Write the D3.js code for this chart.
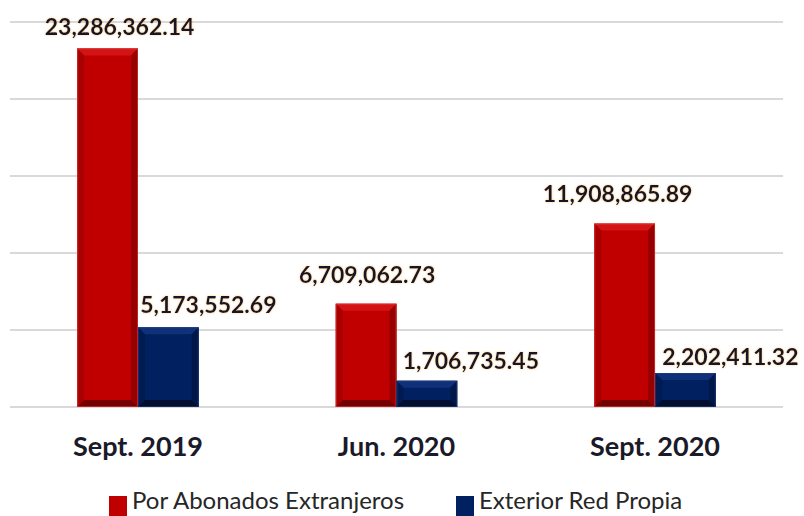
<!DOCTYPE html>
<html><head><meta charset="utf-8">
<script src="https://cdn.jsdelivr.net/npm/d3@7"></script>
<style>
body{margin:0;background:#fff;}
svg{display:block;}
</style></head>
<body>
<svg id="chart" width="804" height="516"></svg>
<script>
// ---- data ----
const categories = ["Sept. 2019", "Jun. 2020", "Sept. 2020"];
const seriesNames = ["Por Abonados Extranjeros", "Exterior Red Propia"];
const porAbonados = [23286362.14, 6709062.73, 11908865.89];
const exteriorRed = [5173552.69, 1706735.45, 2202411.32];
const valueLabels = [
  ["23,286,362.14", "6,709,062.73", "11,908,865.89"],
  ["5,173,552.69", "1,706,735.45", "2,202,411.32"]
];
const yTicks = [0, 5000000, 10000000, 15000000, 20000000, 25000000];

// ---- label layout (style, not data) ----
const labelNudge = [
  [[12, 22], [1, 30], [-7, 31]],
  [[40, 23], [44, 21], [45, 17]]
];

const svg = d3.select("#chart");
const seriesVals = [porAbonados, exteriorRed];
const palettes = [
  {face:"#c00000", top:"#d41414", left:"#a80000", right:"#960000", bottom:"#760000", edge:"#e04040"},
  {face:"#002060", top:"#10307a", left:"#001a52", right:"#00174a", bottom:"#000f30", edge:"#24407f"}
];

const x0 = d3.scaleBand().domain(categories).range([10, 783]).paddingInner(0.53).paddingOuter(0.26);
const x1 = d3.scaleBand().domain([0,1]).range([0, x0.bandwidth()]).padding(0);
const y = d3.scaleLinear().domain([0, 25000000]).range([407, 22]);

// glow filter
const defs = svg.append("defs");
const f = defs.append("filter").attr("id","glow").attr("x","-10%").attr("y","-30%").attr("width","120%").attr("height","160%");
f.append("feMorphology").attr("in","SourceAlpha").attr("operator","dilate").attr("radius",0.4).attr("result","d");
f.append("feGaussianBlur").attr("in","d").attr("stdDeviation",0.9).attr("result","b");
f.append("feFlood").attr("flood-color","#f0a830").attr("flood-opacity",0.6).attr("result","c");
f.append("feComposite").attr("in","c").attr("in2","b").attr("operator","in").attr("result","g");
const m = f.append("feMerge");
m.append("feMergeNode").attr("in","g");
m.append("feMergeNode").attr("in","SourceGraphic");

// gridlines
svg.append("g").selectAll("line").data(yTicks).join("line")
  .attr("x1", 10).attr("x2", 783)
  .attr("y1", d => y(d)).attr("y2", d => y(d))
  .attr("stroke", "#d9d9d9").attr("stroke-width", 2);

// bars with bevel
function bevelBar(g, x, yy, w, h, p) {
  const b = Math.min(7, h/2, w/2);
  g.append("rect").attr("x", x).attr("y", yy).attr("width", w).attr("height", h).attr("fill", p.face);
  const pts = (arr) => arr.map(a => a.join(",")).join(" ");
  g.append("polygon").attr("fill", p.top).attr("points", pts([[x,yy],[x+w,yy],[x+w-b,yy+b],[x+b,yy+b]]));
  g.append("polygon").attr("fill", p.left).attr("points", pts([[x,yy],[x+b,yy+b],[x+b,yy+h-b],[x,yy+h]]));
  g.append("polygon").attr("fill", p.right).attr("points", pts([[x+w,yy],[x+w,yy+h],[x+w-b,yy+h-b],[x+w-b,yy+b]]));
  g.append("polygon").attr("fill", p.bottom).attr("points", pts([[x,yy+h],[x+b,yy+h-b],[x+w-b,yy+h-b],[x+w,yy+h]]));
  g.append("rect").attr("x", x+0.5).attr("y", yy+0.5).attr("width", w-1).attr("height", h-1)
    .attr("fill", "none").attr("stroke", p.edge).attr("stroke-width", 1).attr("stroke-opacity", 0.6);
}

const barsG = svg.append("g");
categories.forEach((c, i) => {
  seriesVals.forEach((vals, s) => {
    const bx = x0(c) + x1(s);
    const by = y(vals[i]);
    bevelBar(barsG, bx, by, x1.bandwidth(), y(0) - by, palettes[s]);
  });
});

// value labels
const labG = svg.append("g").attr("filter", "url(#glow)");
categories.forEach((c, i) => {
  seriesVals.forEach((vals, s) => {
    const cx = x0(c) + x1(s) + x1.bandwidth()/2 + labelNudge[s][i][0];
    const cy = y(vals[i]) - labelNudge[s][i][1];
    labG.append("text").attr("x", cx).attr("y", cy)
      .attr("text-anchor", "middle").attr("dominant-baseline", "central")
      .attr("font-family", "Lato, 'Open Sans', sans-serif").attr("font-weight", "bold")
      .attr("font-size", 23).attr("fill", "#16162a")
      .text(valueLabels[s][i]);
  });
});

// category labels
svg.append("g").selectAll("text").data(categories).join("text")
  .attr("x", d => x0(d) + x0.bandwidth()/2)
  .attr("y", 456)
  .attr("text-anchor", "middle")
  .attr("font-family", "Lato, 'Open Sans', sans-serif").attr("font-weight", "bold")
  .attr("font-size", 27).attr("fill", "#1a1a2a")
  .text(d => d);

// legend
const legend = svg.append("g");
const legX = [109, 456];
seriesNames.forEach((n, s) => {
  legend.append("rect").attr("x", legX[s]).attr("y", 496).attr("width", 18).attr("height", 20)
    .attr("fill", palettes[s].face);
  legend.append("text").attr("x", legX[s] + 23).attr("y", 509)
    .attr("font-family", "Lato, 'Open Sans', sans-serif")
    .attr("font-size", 24).attr("fill", "#262626")
    .text(n);
});
</script>
</body></html>
